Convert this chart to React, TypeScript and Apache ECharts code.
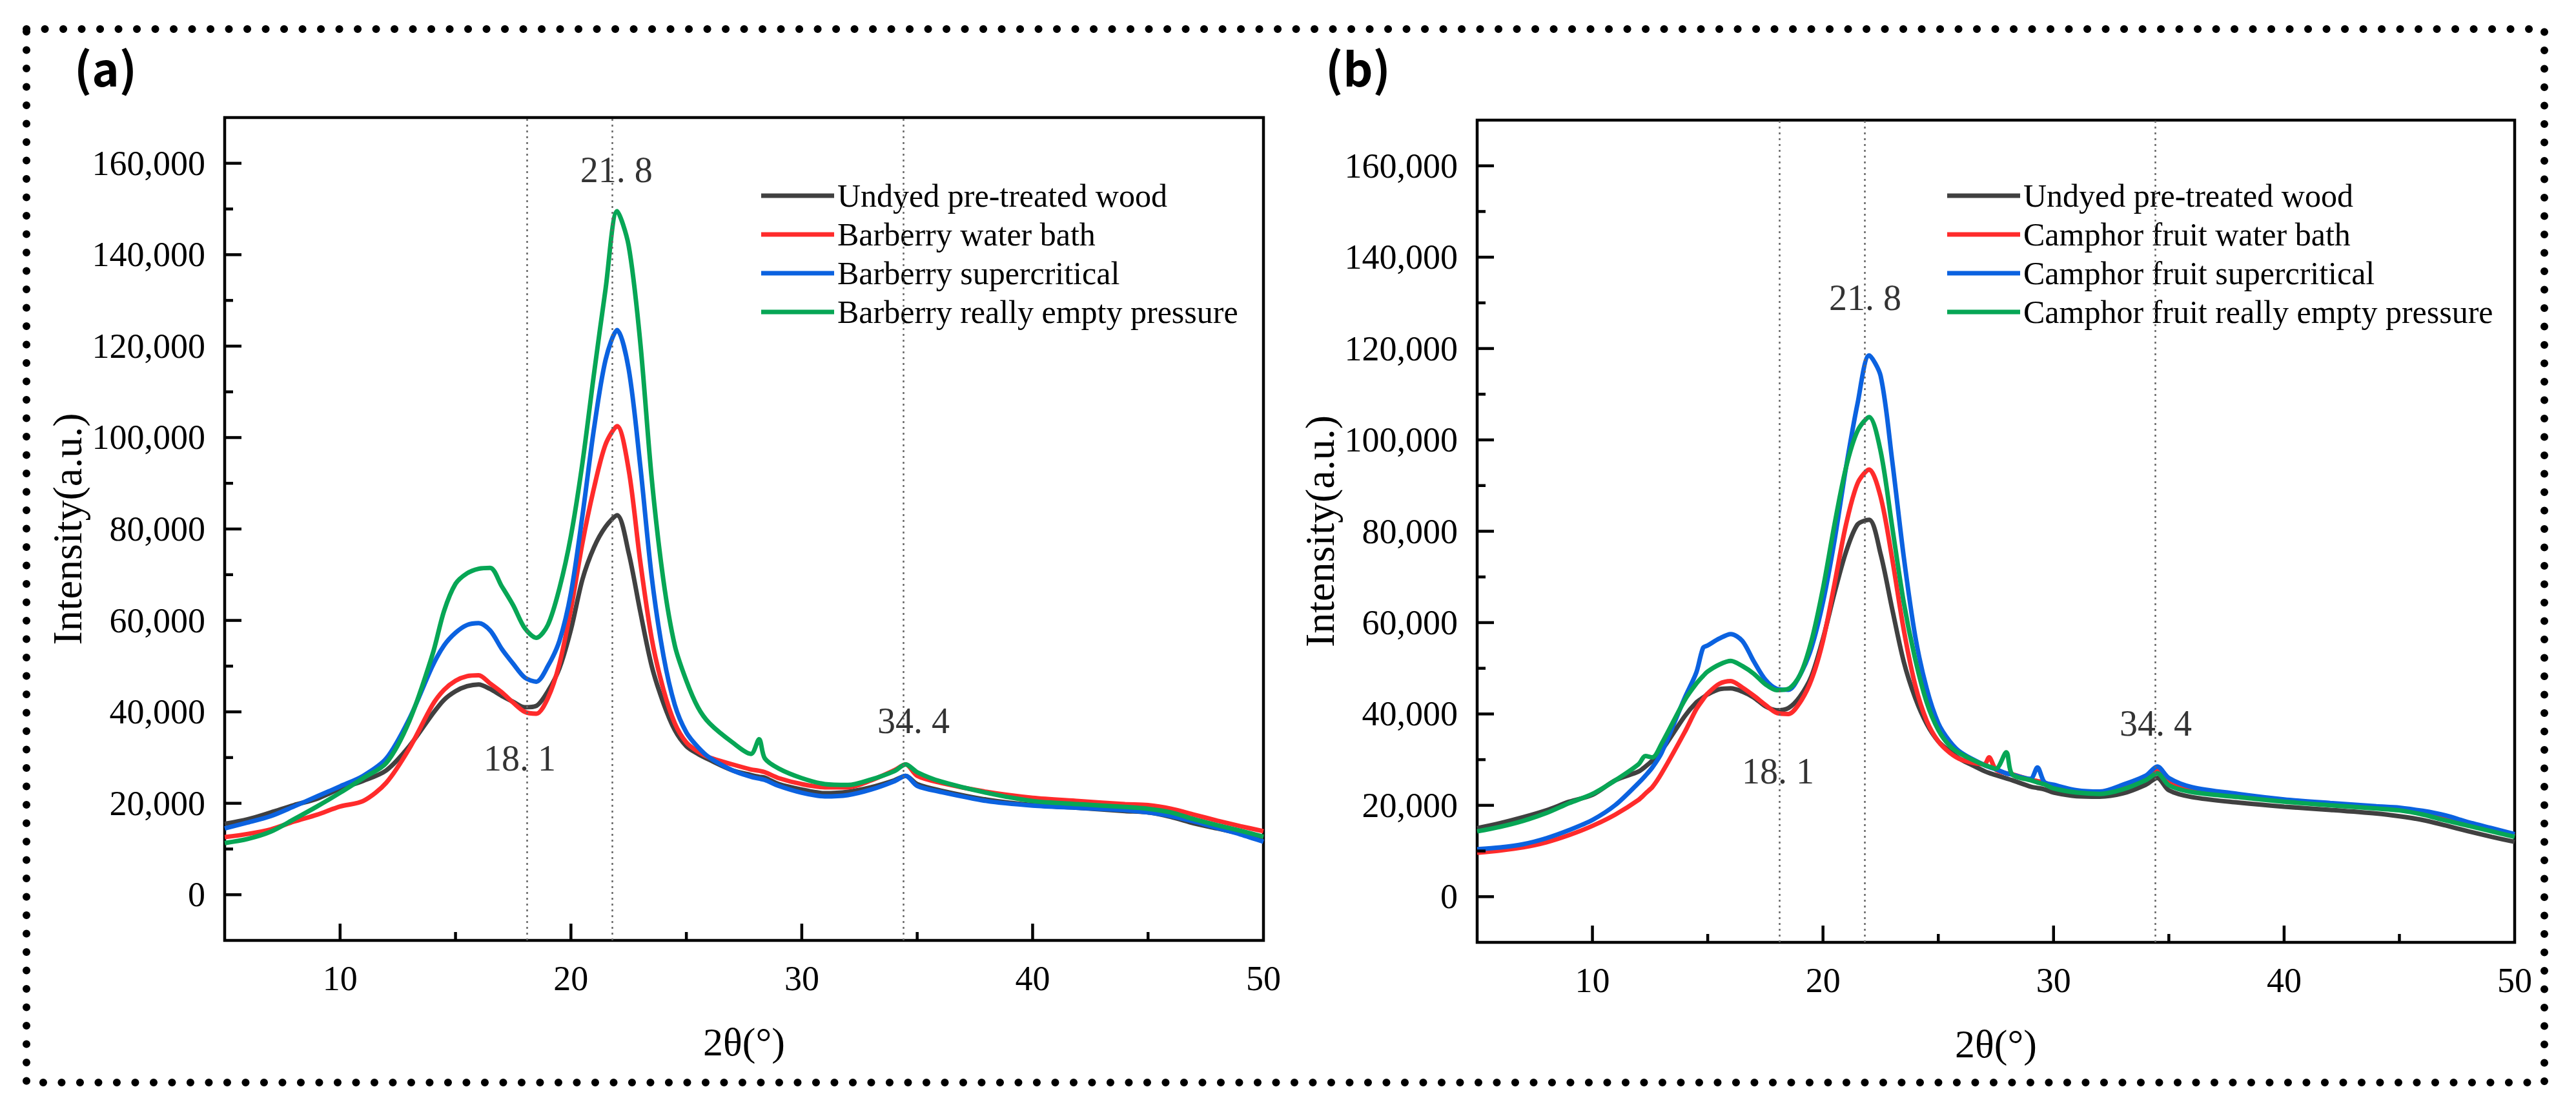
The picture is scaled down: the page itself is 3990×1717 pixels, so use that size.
import { useEffect, useRef } from 'react';
import * as echarts from 'echarts';

// 2θ sampling (degrees) for each panel
const xsA = [5, 6, 7, 8, 9, 10, 11, 12, 13, 14, 14.5, 15, 15.5, 16, 16.5, 17, 17.5, 18, 18.5, 19, 19.5, 20, 20.5, 21, 21.5, 22, 22.5, 23, 23.5, 24, 24.5, 25, 25.5, 26, 27, 27.8, 28.15, 28.4, 29, 30, 31, 32, 33, 34, 34.5, 35, 36, 38, 40, 42, 44, 45, 46, 47, 48, 49, 50];
const xsB = [5, 6, 7, 8, 9, 10, 11, 12, 12.3, 12.6, 13, 14, 14.5, 14.8, 15, 15.5, 16, 16.5, 17, 17.5, 18, 18.5, 19, 19.5, 20, 20.5, 21, 21.5, 22, 22.5, 23, 23.5, 24, 24.5, 25, 25.5, 26, 27, 27.2, 27.5, 27.95, 28.2, 29, 29.3, 29.6, 30, 31, 32, 33, 34, 34.5, 35, 36, 38, 40, 42, 44, 45, 46, 47, 48, 49, 50];

// intensities in thousands (a.u.)
const undyedA = [15.5, 16.5, 18, 19.6, 21, 23.2, 24.9, 27.2, 32.5, 39.5, 42.6, 44.5, 45.6, 46, 45, 43.5, 42.2, 41, 41.3, 44.5, 49.5, 58, 69, 76, 80.5, 83, 74.8, 62, 50, 42, 36, 32.5, 30.8, 29.5, 27.2, 26.2, 25.8, 25.6, 24.2, 23, 22.2, 22.5, 23.5, 25, 26, 24.2, 22.8, 20.8, 19.6, 19, 18.3, 18, 17, 15.6, 14.5, 13.4, 12.4];
const waterA = [12.6, 13.3, 14.3, 16, 17.5, 19.3, 20.5, 24.5, 32, 41.5, 44.8, 46.8, 47.8, 48, 46.2, 44.3, 42, 40, 39.6, 43, 50.5, 62.5, 77, 89, 98.5, 102.5, 93, 73, 56, 45, 37.5, 33.3, 31.3, 30, 28.5, 27.4, 27.1, 26.8, 25.5, 24.2, 23.5, 23.5, 25, 27.2, 28.5, 26, 24.5, 22.5, 21.2, 20.5, 19.8, 19.6, 18.8, 17.5, 16.2, 15, 13.9];
const superA = [14.5, 15.8, 17.2, 19.3, 21.5, 23.7, 26, 29.8, 38.5, 50, 54.5, 57.3, 59, 59.4, 57.8, 53.8, 50.5, 47.5, 46.6, 50, 55.5, 66, 83, 102, 117, 123.5, 115, 94, 69.5, 52.5, 41.5, 35.5, 32.3, 30, 27.2, 25.8, 25.4, 25.1, 23.8, 22.3, 21.5, 21.8, 23, 24.8, 26, 23.8, 22.5, 20.5, 19.5, 19, 18.5, 18, 17.2, 16, 14.6, 13.2, 11.6];
const vacuumA = [11.3, 12.2, 13.8, 16.5, 19.3, 22.3, 25.5, 28.8, 38, 52.5, 62, 68, 70.3, 71.3, 71.5, 67.5, 63.3, 58.3, 56.2, 59, 67, 78.5, 94.5, 114, 132.5, 149.5, 142, 121, 91, 69, 54.5, 46.8, 41, 37.5, 33.3, 30.8, 34, 29.8, 27.6, 25.5, 24.2, 24, 25.2, 27, 28.5, 26.8, 24.8, 22.3, 20.5, 19.8, 19.2, 18.8, 18, 16.5, 15.2, 14, 12.7];

const undyedB = [15, 16.1, 17.4, 18.9, 20.8, 22.3, 25.5, 27.4, 28.5, 29.8, 32, 39.5, 42.5, 43.6, 44.3, 45.4, 45.6, 44.9, 43.6, 41.7, 40.8, 41.3, 43.8, 48.3, 56.5, 66.5, 75.5, 81.5, 82.5, 75, 63, 51.5, 43.5, 37.8, 34, 31.8, 30, 27.5, 27.1, 26.6, 25.9, 25.5, 24.1, 23.8, 23.5, 22.8, 22, 21.9, 22.6, 24.5, 26, 23.3, 21.8, 20.6, 19.7, 19, 18.2, 17.6, 16.8, 15.6, 14.3, 13.1, 12];
const waterB = [9.6, 10.1, 10.8, 11.9, 13.5, 15.5, 18, 21.2, 22.6, 24, 27, 36, 41, 43.2, 44.5, 46.6, 47.2, 45.8, 44, 42, 40.2, 40, 42.5, 47.5, 56, 68.5, 81.5, 90.5, 93.5, 87.5, 74, 58.5, 46.3, 38.5, 34, 31.5, 30, 29, 30.5, 27.8, 27, 26.8, 25.6, 25.3, 25, 24.2, 23, 23, 24, 26.3, 27.8, 25.2, 23.2, 22, 21, 20.2, 19.5, 19, 18.2, 17, 15.8, 14.5, 13.3];
const superB = [10.4, 10.8, 11.5, 12.8, 14.6, 16.8, 20.1, 24.9, 26.5, 28.3, 31.5, 43.5, 49, 54.5, 55, 56.5, 57.5, 56, 51.5, 47.5, 45.5, 45.3, 48.5, 54.5, 64.5, 78, 94, 108, 118.5, 114, 95.5, 74.5, 57, 45.5, 38, 34, 31.5, 28.8, 28.4, 27.9, 27, 26.7, 25.8, 28.3, 25.1, 24.5, 23.3, 23, 24.5, 26.5, 28.5, 26, 24, 22.5, 21.3, 20.5, 19.8, 19.5, 18.8, 17.8, 16.3, 15, 13.7];
const vacuumB = [14.3, 15.3, 16.6, 18.3, 20.5, 22.5, 25.5, 29, 30.8, 30.5, 33.5, 43, 46.6, 48.3, 49.3, 50.8, 51.6, 50.5, 48.8, 46.5, 45.2, 45.5, 48.5, 56, 67.5, 81.5, 94, 102, 105, 97.5, 81, 64.5, 52, 42.5, 36.5, 33, 31.2, 28.8, 28.5, 28, 31.6, 26.8, 25.5, 25, 24.6, 23.7, 22.8, 22.5, 23.5, 25.5, 27, 24.4, 22.9, 21.8, 20.8, 20, 19.3, 18.9, 18, 16.7, 15.5, 14.3, 13.1];

const namesA = ['Undyed pre-treated wood', 'Barberry water bath', 'Barberry supercritical', 'Barberry really empty pressure'];
const namesB = ['Undyed pre-treated wood', 'Camphor fruit water bath', 'Camphor fruit supercritical', 'Camphor fruit really empty pressure'];
const colors = ['#404040', '#ff2b2b', '#0b62e0', '#07a655'];

// tick positions (major every 10° / 20,000, minor halfway)
const xTicks = [10, 15, 20, 25, 30, 35, 40, 45];
const yTicks = [0, 10000, 20000, 30000, 40000, 50000, 60000, 70000, 80000, 90000, 100000, 110000, 120000, 130000, 140000, 150000, 160000];

// reference peak positions and their annotations [2θ, intensity, text]
const peakLines = [18.1, 21.8, 34.4];
const notesA: [number, number, string][] = [[21.97, 158600, '21. 8'], [17.78, 29800, '18. 1'], [34.84, 38100, '34. 4']];
const notesB: [number, number, string][] = [[21.83, 131100, '21. 8'], [18.05, 27500, '18. 1'], [34.43, 38000, '34. 4']];

const SERIF = 'Liberation Serif';

const panels = [
  { box: { left: 348, top: 182, width: 1609, height: 1274 }, xs: xsA, names: namesA, values: [undyedA, waterA, superA, vacuumA], notes: notesA, tag: '(a)', tagX: 115, legendLeft: 1179 },
  { box: { left: 2288, top: 186, width: 1607, height: 1273 }, xs: xsB, names: namesB, values: [undyedB, waterB, superB, vacuumB], notes: notesB, tag: '(b)', tagX: 2053, legendLeft: 3016 },
];

const fmt = (v: number) => v.toLocaleString('en-US');

// inward tick marks: [axis (0 = x, 1 = y), value, length]
const tickData = [
  ...xTicks.map((v) => [0, v, v % 10 === 0 ? 26 : 13]),
  ...yTicks.map((v) => [1, v, v % 20000 === 0 ? 26 : 13]),
];

function renderTick(params: any, api: any) {
  const cs = params.coordSys;
  const kind = api.value(0);
  const v = api.value(1);
  const len = api.value(2);
  const style = { stroke: '#000', lineWidth: 4.5, fill: 'none' };
  if (kind === 0) {
    const x = api.coord([v, 0])[0];
    const yb = cs.y + cs.height;
    return { type: 'line', shape: { x1: x, y1: yb, x2: x, y2: yb - len }, style };
  }
  const y = api.coord([5, v])[1];
  return { type: 'line', shape: { x1: cs.x, y1: y, x2: cs.x + len, y2: y }, style };
}

function buildOption() {
  const grid: any[] = [];
  const xAxis: any[] = [];
  const yAxis: any[] = [];
  const series: any[] = [];
  const legend: any[] = [];
  const graphic: any[] = [];

  panels.forEach((p, pi) => {
    const b = p.box;

    grid.push({ left: b.left, top: b.top, width: b.width, height: b.height, show: true, borderColor: '#000', borderWidth: 4.5 });
    xAxis.push({
      gridIndex: pi, type: 'value', min: 5, max: 50, interval: 5, position: 'bottom',
      axisLine: { show: false, onZero: false }, splitLine: { show: false }, axisTick: { show: false },
      axisLabel: {
        show: true, margin: 32, fontFamily: SERIF, fontSize: 54, color: '#000',
        formatter: (v: number) => (v % 10 === 0 ? String(v) : ''),
      },
      name: '2θ(°)', nameLocation: 'middle', nameGap: 126,
      nameTextStyle: { fontFamily: SERIF, fontSize: 62, color: '#000' },
    });
    yAxis.push({
      gridIndex: pi, type: 'value', min: -10000, max: 170000, interval: 10000, position: 'left',
      axisLine: { show: false, onZero: false }, splitLine: { show: false }, axisTick: { show: false },
      axisLabel: {
        show: true, margin: 30, fontFamily: SERIF, fontSize: 54, color: '#000',
        formatter: (v: number) => (v >= 0 && v <= 160000 && v % 20000 === 0 ? fmt(v) : ''),
      },
      name: 'Intensity(a.u.)', nameLocation: 'middle', nameGap: 212, nameRotate: 90,
      nameTextStyle: { fontFamily: SERIF, fontSize: 64, color: '#000' },
    });

    series.push({
      type: 'custom', xAxisIndex: pi, yAxisIndex: pi, silent: true, clip: false, z: 5,
      encode: { x: 1, y: 1 }, renderItem: renderTick, data: tickData,
    });

    p.names.forEach((name, si) => {
      series.push({
        type: 'line', name, xAxisIndex: pi, yAxisIndex: pi,
        symbol: 'none', smooth: 0.3,
        lineStyle: { color: colors[si], width: 7 },
        itemStyle: { color: colors[si] },
        data: p.xs.map((x, i) => [x, p.values[si][i] * 1000]),
      });
    });

    series.push({
      type: 'scatter', xAxisIndex: pi, yAxisIndex: pi, silent: true,
      symbolSize: 1, itemStyle: { color: 'rgba(0,0,0,0)' },
      label: {
        show: true, position: 'inside', fontFamily: SERIF, fontSize: 56, color: '#000',
        formatter: (d: any) => d.value[2],
      },
      data: p.notes,
      markLine: {
        silent: true, symbol: ['none', 'none'], label: { show: false },
        lineStyle: { color: '#666', width: 2.5, type: [3, 6] },
        data: peakLines.map((x) => ({ xAxis: x })),
      },
    });

    legend.push({
      orient: 'vertical', left: p.legendLeft, top: 278, padding: 0,
      icon: 'rect', itemWidth: 113, itemHeight: 7, itemGap: 10,
      data: p.names.map((n, si) => ({ name: n, itemStyle: { color: colors[si] } })),
      textStyle: { fontFamily: SERIF, fontSize: 50, lineHeight: 50, color: '#000' },
      selectedMode: false,
    });

    graphic.push({
      type: 'text', left: p.tagX, top: 66,
      style: { text: p.tag, font: 'bold 72px "Noto Sans CJK SC"', fill: '#000' },
    });
  });

  // dotted frame around both panels
  graphic.push({
    type: 'rect', shape: { x: 41, y: 45, width: 3900, height: 1631 },
    style: { fill: 'none', stroke: '#000', lineWidth: 12, lineDash: [0.1, 28.4], lineCap: 'round' },
    silent: true,
  });

  return { animation: false, backgroundColor: '#fff', grid, xAxis, yAxis, series, legend, graphic };
}

export default function App() {
  const ref = useRef<HTMLDivElement>(null);

  useEffect(() => {
    if (!ref.current) return;
    const chart = echarts.init(ref.current, undefined, { renderer: 'svg' });
    chart.setOption(buildOption() as any);
    return () => {
      chart.dispose();
    };
  }, []);

  return <div ref={ref} style={{ position: 'fixed', left: 0, top: 0, width: '3990px', height: '1717px', background: '#fff' }} />;
}
